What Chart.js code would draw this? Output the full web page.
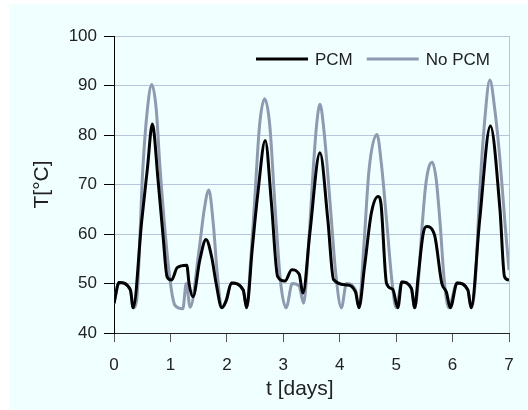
<!DOCTYPE html>
<html>
<head>
<meta charset="utf-8">
<script src="https://cdn.jsdelivr.net/npm/chart.js@4/dist/chart.umd.min.js"></script>
<style>
    html, body { margin: 0; padding: 0; background: #ffffff; }
    #wrap { width: 528px; height: 410px; }
</style>
</head>
<body>
<div id="wrap"><canvas id="tempChart" width="528" height="410"></canvas></div>
<script>
// time in days / temperature in °C
const pcmDays = [0.00, 0.09, 0.29, 0.34, 0.49, 0.59, 0.68, 0.78, 0.87, 0.94, 1.02, 1.12, 1.29, 1.33, 1.40,
    1.52, 1.63, 1.73, 1.81, 1.91, 1.99, 2.08, 2.29, 2.35, 2.45, 2.55, 2.68, 2.79, 2.90, 3.03, 3.15, 3.28,
    3.35, 3.47, 3.65, 3.79, 3.89, 4.12, 4.28, 4.34, 4.44, 4.56, 4.68, 4.73, 4.83, 4.94, 5.03, 5.10, 5.27,
    5.33, 5.39, 5.48, 5.54, 5.68, 5.81, 5.89, 5.96, 6.08, 6.27, 6.33, 6.48, 6.67, 6.84, 6.92, 7.00];
const pcmTemp = [46.0, 50.2, 48.7, 45.1, 62.5, 73.0, 82.2, 71.0, 59.5, 51.4, 50.7, 53.2, 53.7, 50.0, 47.3,
    54.7, 58.9, 55.4, 50.0, 45.1, 46.6, 50.1, 48.7, 45.1, 57.0, 68.3, 78.9, 66.2, 51.4, 50.5, 52.8, 51.9,
    48.1, 60.1, 76.4, 62.8, 50.8, 49.7, 48.3, 45.1, 53.4, 64.2, 67.6, 66.2, 50.0, 48.8, 45.1, 50.3, 49.0,
    45.1, 51.4, 60.1, 61.5, 59.8, 50.0, 48.3, 45.1, 50.1, 48.7, 45.1, 62.8, 81.8, 64.9, 51.4, 50.7];

const noPcmDays = [0.00, 0.09, 0.29, 0.34, 0.40, 0.51, 0.59, 0.67, 0.75, 0.81, 0.93, 1.02, 1.08, 1.22, 1.28,
    1.35, 1.51, 1.60, 1.68, 1.76, 1.83, 1.91, 1.99, 2.08, 2.29, 2.35, 2.43, 2.49, 2.58, 2.67, 2.76, 2.85,
    2.95, 3.05, 3.16, 3.28, 3.36, 3.45, 3.53, 3.59, 3.65, 3.72, 3.83, 3.93, 4.03, 4.12, 4.28, 4.34, 4.43,
    4.52, 4.66, 4.74, 4.83, 4.93, 5.00, 5.10, 5.27, 5.33, 5.39, 5.45, 5.52, 5.58, 5.64, 5.71, 5.78, 5.85,
    5.93, 6.08, 6.27, 6.33, 6.40, 6.48, 6.57, 6.66, 6.75, 6.84, 6.93, 7.00];
const noPcmTemp = [46.0, 50.2, 48.7, 45.1, 46.5, 73.0, 85.0, 90.2, 85.0, 74.3, 57.4, 48.5, 45.6, 44.9, 50.0,
    45.2, 57.0, 65.0, 68.9, 62.0, 52.0, 45.1, 46.6, 50.1, 48.7, 45.1, 56.0, 66.2, 82.0, 87.3, 82.0, 66.2,
    50.5, 45.1, 50.0, 49.5, 46.0, 58.0, 73.0, 82.0, 86.2, 81.0, 66.2, 52.0, 45.1, 50.0, 48.7, 45.1, 58.0,
    73.0, 80.1, 74.0, 62.8, 50.0, 45.1, 50.3, 49.0, 45.1, 50.0, 60.0, 69.5, 73.5, 74.5, 71.0, 62.0, 51.0,
    45.1, 50.1, 48.7, 45.1, 50.0, 68.3, 83.0, 91.1, 85.0, 75.0, 62.0, 52.7];

const seriesNames = ["PCM", "No PCM"];
const seriesColors = ["#000000", "#8e9ab2"];
const dayTicks = [0, 1, 2, 3, 4, 5, 6, 7];
const tempTicks = [40, 50, 60, 70, 80, 90, 100];

const gridColor = "#b7c5dc";
const fontFamily = "'Liberation Sans', Arial, sans-serif";

function toPoints(xs, ys) {
    return xs.map((x, i) => ({ x: x, y: ys[i] }));
}

// page background with the light panel behind the plot
const panelBackground = {
    id: "panelBackground",
    beforeDraw(chart) {
        const ctx = chart.ctx;
        ctx.save();
        ctx.fillStyle = "#ffffff";
        ctx.fillRect(0, 0, chart.width, chart.height);
        ctx.fillStyle = "#f0ffff";
        ctx.fillRect(9, 4, chart.width - 9, chart.height - 4);
        ctx.restore();
    }
};

// one-row legend inside the plot, top right
const innerLegend = {
    id: "innerLegend",
    afterDraw(chart) {
        const ctx = chart.ctx;
        const area = chart.chartArea;
        const lineLen = 52, gap = 7, itemGap = 14;
        ctx.save();
        ctx.font = "17px " + fontFamily;
        ctx.textBaseline = "middle";
        const widths = seriesNames.map(n => ctx.measureText(n).width);
        let total = 0;
        widths.forEach((w, i) => { total += lineLen + gap + w + (i > 0 ? itemGap : 0); });
        let x = area.right - 19 - total;
        const y = area.top + 23;
        chart.data.datasets.forEach((ds, i) => {
            ctx.strokeStyle = ds.borderColor;
            ctx.lineWidth = 3;
            ctx.beginPath();
            ctx.moveTo(x, y);
            ctx.lineTo(x + lineLen, y);
            ctx.stroke();
            ctx.fillStyle = "#222222";
            ctx.fillText(ds.label, x + lineLen + gap, y + 1);
            x += lineLen + gap + widths[i] + itemGap;
        });
        ctx.restore();
    }
};

const ctx = document.getElementById("tempChart").getContext("2d");
new Chart(ctx, {
    type: "line",
    data: {
        datasets: [
            {
                label: seriesNames[0],
                data: toPoints(pcmDays, pcmTemp),
                borderColor: seriesColors[0],
                borderWidth: 3,
                pointRadius: 0,
                cubicInterpolationMode: "monotone",
                fill: false
            },
            {
                label: seriesNames[1],
                data: toPoints(noPcmDays, noPcmTemp),
                borderColor: seriesColors[1],
                borderWidth: 3,
                pointRadius: 0,
                cubicInterpolationMode: "monotone",
                fill: false
            }
        ]
    },
    options: {
        responsive: false,
        animation: false,
        layout: { padding: { left: 0, right: 19, top: 36, bottom: 0 } },
        plugins: {
            legend: { display: false },
            tooltip: { enabled: false }
        },
        scales: {
            x: {
                type: "linear",
                min: 0,
                max: 7,
                afterFit: scale => { scale.height = 77; },
                afterBuildTicks: scale => { scale.ticks = dayTicks.map(v => ({ value: v })); },
                border: { display: true, color: "#222222", width: 1 },
                grid: {
                    drawOnChartArea: true,
                    color: c => (c.tick && c.tick.value === 7 ? gridColor : "rgba(0,0,0,0)"),
                    tickColor: "#555555",
                    tickLength: 9,
                    lineWidth: 1
                },
                ticks: {
                    color: "#222222",
                    font: { family: fontFamily, size: 17 },
                    padding: 13,
                    maxRotation: 0
                },
                title: {
                    display: true,
                    // trailing spaces pull the centred title a little to the left
                    text: "t [days]\u00a0\u00a0\u00a0\u00a0",
                    color: "#222222",
                    font: { family: fontFamily, size: 21 },
                    padding: { top: 0, bottom: 8 }
                }
            },
            y: {
                min: 40,
                max: 100,
                afterFit: scale => { scale.width = 114; },
                afterBuildTicks: scale => { scale.ticks = tempTicks.map(v => ({ value: v })); },
                border: { display: true, color: "#000000", width: 1 },
                grid: {
                    color: gridColor,
                    tickColor: "#000000",
                    tickLength: 10,
                    lineWidth: 1
                },
                ticks: {
                    color: "#222222",
                    font: { family: fontFamily, size: 17 },
                    padding: 7
                },
                title: {
                    display: true,
                    text: "T[°C]",
                    color: "#222222",
                    font: { family: fontFamily, size: 21 },
                    padding: { top: 30, bottom: 0 }
                }
            }
        }
    },
    plugins: [panelBackground, innerLegend]
});
</script>
</body>
</html>
